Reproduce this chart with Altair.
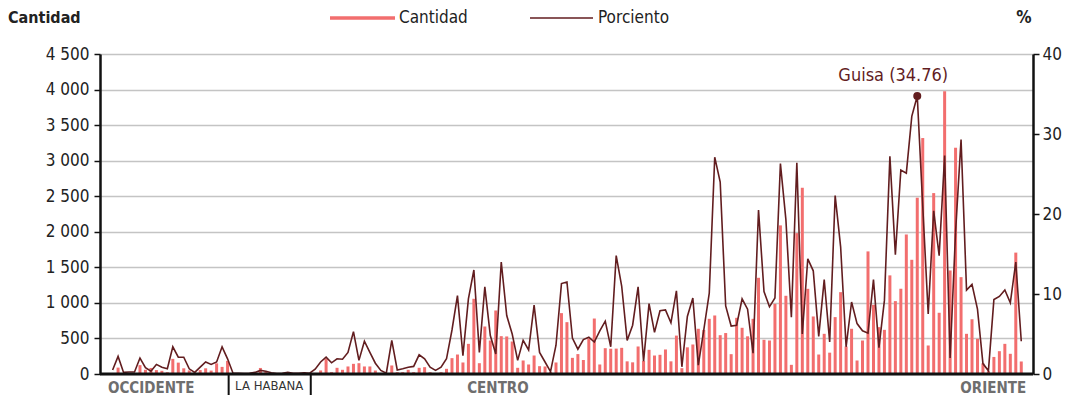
import altair as alt
import pandas as pd

# ---- data ----
cantidad = [
    10, 90, 5, 5, 5, 125, 60, 85, 55, 45, 25, 213, 160, 80, 50, 20, 55, 80, 48, 150, 100, 185,
    5, 5, 5, 10, 20, 85, 35, 10, 5, 10, 25, 10, 10, 25, 10,
    15, 50, 213, 26, 87, 59, 106, 143, 152, 106, 106, 49, 12, 12, 120, 26, 26, 59, 26, 87, 96,
    26, 12, 26, 73, 223, 274, 162, 424, 1058, 152, 668, 471, 893, 532, 528, 457, 87, 190, 134,
    260, 110, 106, 30, 162, 856, 729, 227, 280, 197, 500, 780, 134, 363, 354, 357, 368, 178,
    164, 387, 185, 340, 260, 270, 345, 178, 540, 82, 375, 415, 636, 620, 776, 823, 546, 576,
    279, 790, 650, 530, 776,
    1353, 481, 471, 987, 2090, 1100, 129, 1981, 2619, 1198, 809, 274, 565, 300, 800, 1151, 387,
    636, 190, 471, 1724, 973, 659, 621, 1387, 1025, 1199, 1962, 1606, 2479, 3318, 401, 2544,
    861, 3975, 1456, 3182, 1362, 565, 770, 495, 150, 40, 240, 321, 424, 284, 1707, 176,
]
porciento = [
    0.5, 2.2, 0.2, 0.25, 0.25, 2.0, 0.8, 0.35, 1.2, 0.85, 0.65, 3.4, 2.1, 2.1, 0.65, 0.2, 0.85,
    1.5, 1.2, 1.5, 3.4, 1.9,
    0.1, 0.1, 0.05, 0.1, 0.2, 0.45, 0.35, 0.15, 0.05, 0.1, 0.2, 0.1, 0.1, 0.15, 0.1,
    0.6, 1.5, 2.1, 1.4, 1.9, 1.85, 2.7, 5.3, 1.7, 4.1, 2.7, 1.35, 0.45, 0.1, 4.2, 0.5, 0.65,
    0.85, 0.95, 2.4, 1.9, 0.85, 0.45, 0.85, 1.9, 5.5, 9.8, 2.3, 9.4, 13.0, 2.7, 10.9, 4.8, 2.5,
    14.0, 7.3, 5.0, 1.7, 4.2, 3.0, 8.6, 2.7, 1.5, 0.3, 3.6, 11.3, 11.5, 4.5, 3.1, 4.3, 4.6, 4.0,
    5.4, 6.6, 3.4, 14.8, 11.0, 4.2, 6.1, 10.9, 1.6, 8.8, 5.2, 7.9, 8.0, 6.4, 10.4, 0.9, 7.2,
    9.5, 1.1, 5.5, 10.1, 27.1, 24.0, 8.5, 6.0, 6.1, 9.4, 8.1, 2.6,
    20.5, 10.3, 8.4, 9.5, 26.3, 19.3, 7.1, 26.4, 5.0, 14.4, 12.9, 4.7, 11.8, 4.0, 22.3, 15.9,
    3.4, 9.0, 6.3, 5.4, 5.1, 11.8, 3.3, 9.2, 27.2, 14.9, 25.5, 25.1, 32.2, 34.76, 21.0, 7.5,
    20.4, 14.8, 27.3, 2.0, 17.8, 29.3, 10.5, 11.2, 8.1, 1.3, 0.4, 9.3, 9.7, 10.5, 8.9, 14.0, 4.1,
]
regiones = ["OCCIDENTE", "LA HABANA", "CENTRO", "ORIENTE"]
region_pos = [-0.85, 28.6, 70.4, 166.9]
divisiones = [21.2, 36.2]
destacado_idx = [147]
destacado_txt = ["Guisa (34.76)"]
left_ticks = [0, 500, 1000, 1500, 2000, 2500, 3000, 3500, 4000, 4500]
right_ticks = [0, 5, 10, 15, 20, 25, 30, 35, 40]

n = len(cantidad)
df = pd.DataFrame({"i": list(range(n)), "cantidad": cantidad, "pct": porciento})

FONT = "Liberation Sans Narrow, DejaVu Sans Condensed, Roboto, sans-serif"
BAR = "#f26e6e"
LINE = "#621d1f"
W, H = 933, 320
TY = -36  # y of the top row (titles and legend), relative to the plot area

xscale = alt.Scale(domain=[-1.39, 167.23], nice=False, zero=False)
X = alt.X("i:Q", scale=xscale, axis=None)

bars = alt.Chart(df).mark_bar(size=3, color=BAR).encode(
    x=X,
    y=alt.Y("cantidad:Q", scale=alt.Scale(domain=[0, 4500], nice=False),
            axis=alt.Axis(values=left_ticks, title=None, orient="left",
                          labelExpr="replace(format(datum.value, ','), ',', ' ')",
                          labelFont=FONT, labelFontSize=17, labelColor="#222",
                          labelPadding=5, tickSize=6, tickColor="#111", tickWidth=1.5,
                          domainColor="#111", domainWidth=2.5,
                          grid=True, gridColor="#c4c4c4", gridWidth=1.5)),
)

line = alt.Chart(df).mark_line(color=LINE, strokeWidth=1.6).encode(
    x=X,
    y=alt.Y("pct:Q", scale=alt.Scale(domain=[0, 40], nice=False),
            axis=alt.Axis(values=right_ticks, title=None, orient="right",
                          labelFont=FONT, labelFontSize=17, labelColor="#222",
                          labelPadding=3, tickSize=6, tickColor="#111", tickWidth=1.5,
                          domainColor="#111", domainWidth=2.5, grid=False)),
)

hl = pd.DataFrame({"i": destacado_idx, "pct": [porciento[k] for k in destacado_idx],
                   "t": destacado_txt})
dot = alt.Chart(hl).mark_circle(size=64, color=LINE, opacity=1).encode(
    x=X, y=alt.Y("pct:Q"))
dot_lbl = alt.Chart(hl).mark_text(font=FONT, fontSize=18, color=LINE, dx=-24, dy=-20).encode(
    x=X, y=alt.Y("pct:Q"), text="t:N")

right = alt.layer(line, dot, dot_lbl)

one = pd.DataFrame({"k": [0]})
base_rule = alt.Chart(one).mark_rule(color="#111", strokeWidth=3).encode(
    x=alt.value(0), x2=alt.value(W), y=alt.value(H))

div_df = pd.DataFrame({"i": divisiones})
dividers = alt.Chart(div_df).mark_rule(color="#111", strokeWidth=2).encode(
    x=X, y=alt.value(H), y2=alt.value(H + 21))

reg_df = pd.DataFrame({"i": region_pos, "t": regiones})
reg_occ = alt.Chart(reg_df.iloc[[0]]).mark_text(
    font=FONT, fontSize=15, fontWeight="bold", color="#6e6e6e", align="left", baseline="middle"
).encode(x=X, y=alt.value(H + 14), text="t:N")
reg_hab = alt.Chart(reg_df.iloc[[1]]).mark_text(
    font=FONT, fontSize=13, color="#333", align="center", baseline="middle"
).encode(x=X, y=alt.value(H + 12), text="t:N")
reg_cen = alt.Chart(reg_df.iloc[[2]]).mark_text(
    font=FONT, fontSize=15, fontWeight="bold", color="#6e6e6e", align="center", baseline="middle"
).encode(x=X, y=alt.value(H + 14), text="t:N")
reg_ori = alt.Chart(reg_df.iloc[[3]]).mark_text(
    font=FONT, fontSize=15, fontWeight="bold", color="#6e6e6e", align="right", baseline="middle"
).encode(x=X, y=alt.value(H + 14), text="t:N")

# titles and legend
t_left = alt.Chart(one).mark_text(font=FONT, fontSize=16, fontWeight="bold", color="#222",
                                  align="left", baseline="middle").encode(
    x=alt.value(-92), y=alt.value(TY), text=alt.value("Cantidad"))
t_right = alt.Chart(one).mark_text(font=FONT, fontSize=17, fontWeight="bold", color="#222",
                                   align="center", baseline="middle").encode(
    x=alt.value(924), y=alt.value(TY), text=alt.value("%"))
leg_bar = alt.Chart(one).mark_rule(color=BAR, strokeWidth=3.5).encode(
    x=alt.value(230), x2=alt.value(295), y=alt.value(TY))
leg_bar_t = alt.Chart(one).mark_text(font=FONT, fontSize=17, color="#222",
                                     align="left", baseline="middle").encode(
    x=alt.value(299), y=alt.value(TY), text=alt.value("Cantidad"))
leg_line = alt.Chart(one).mark_rule(color=LINE, strokeWidth=1.6).encode(
    x=alt.value(430), x2=alt.value(493), y=alt.value(TY))
leg_line_t = alt.Chart(one).mark_text(font=FONT, fontSize=17, color="#222",
                                      align="left", baseline="middle").encode(
    x=alt.value(498), y=alt.value(TY), text=alt.value("Porciento"))

chart = alt.layer(
    bars, right, base_rule, dividers, reg_occ, reg_hab, reg_cen, reg_ori,
    t_left, t_right, leg_bar, leg_bar_t, leg_line, leg_line_t,
).resolve_scale(y="independent").properties(
    width=W, height=H,
    autosize=alt.AutoSizeParams(type="none"),
    padding={"left": 92, "top": 46, "right": 50, "bottom": 28},
).configure_view(stroke=None).configure(background="white")

chart.save("out.html", embed_options={"renderer": "svg", "actions": False})
